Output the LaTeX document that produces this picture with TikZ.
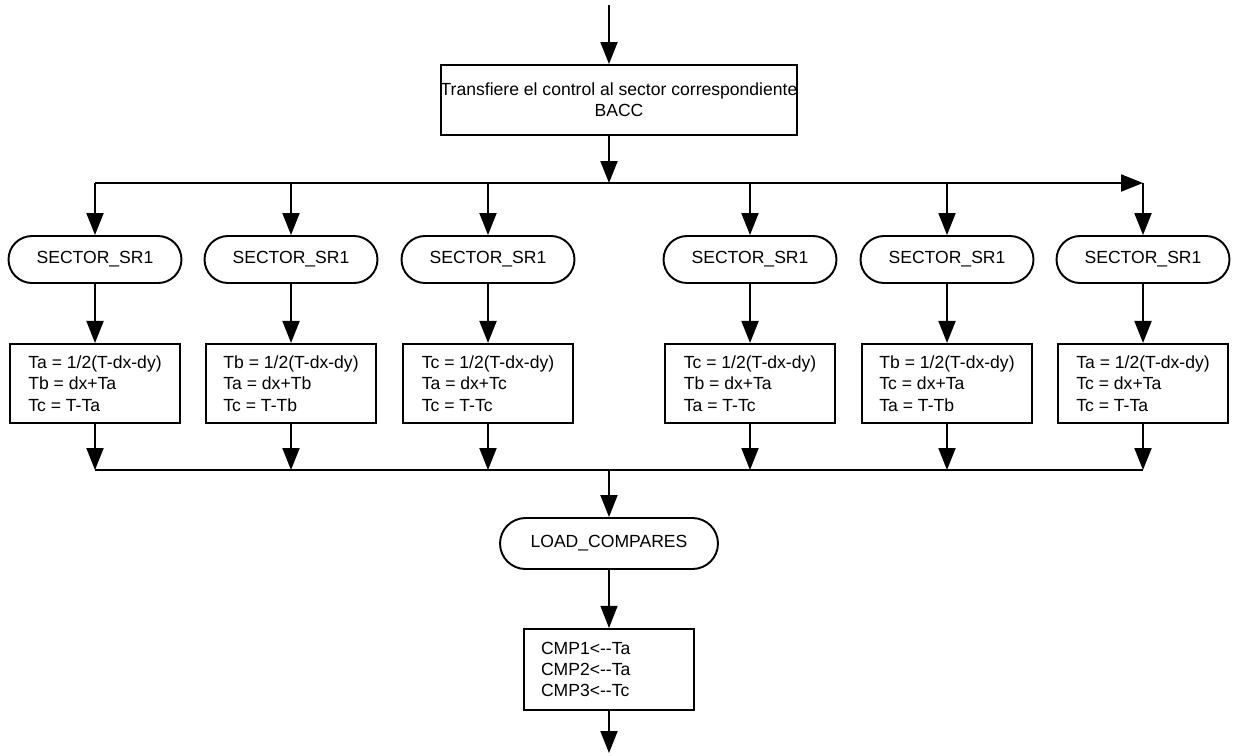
\documentclass[tikz,border=0pt]{standalone}
\usepackage{fontspec}
\setmainfont{Liberation Sans}
\usepackage{tikz}
\usetikzlibrary{calc, positioning, arrows.meta}
\tikzset{
    arrow/.style={-{Triangle[length=0.44cm, width=0.34cm]}, line width=1.1pt},
    thinarrow/.style={-{Triangle[length=0.44cm, width=0.34cm]}, line width=0.6pt},
    bus/.style={line width=1.1pt},
    process/.style={rectangle, draw=black, line width=1.1pt, fill=white, align=center, minimum width=7.12cm, minimum height=1.4cm, inner xsep=0pt, font=\fontsize{10}{11.8}\selectfont},
    calc/.style={rectangle, draw=black, line width=1.1pt, fill=white, align=left, minimum width=3.4cm, minimum height=1.58cm, font=\fontsize{10}{12.2}\selectfont},
    term/.style={rectangle, draw=black, line width=1.1pt, fill=white, rounded corners=0.47cm, minimum width=3.46cm, minimum height=0.94cm, font=\fontsize{10}{12}\selectfont}
}
\begin{document}
\begin{tikzpicture}[x=0.02cm, y=-0.02cm]
        \useasboundingbox (0,0) rectangle (1233,755);

        % Entry and transfer
        \coordinate (In) at (609,5);
        \node[process] (Transfer) at (619,100) {Transfiere el control al sector correspondiente\\BACC};
        \draw[arrow] (In) -- (In |- Transfer.north);

        % Sectors
        \node[term] (S1) at (95,259.5) {SECTOR\_SR1};
        \node[term] (S2) at (291,259.5) {SECTOR\_SR1};
        \node[term] (S3) at (488,259.5) {SECTOR\_SR1};
        \node[term] (S4) at (750,259.5) {SECTOR\_SR1};
        \node[term] (S5) at (947,259.5) {SECTOR\_SR1};
        \node[term] (S6) at (1143,259.5) {SECTOR\_SR1};

        % Distribution bus
        \coordinate (BusL) at (95,183);
        \coordinate (BusR) at (1143,183);
        \draw[arrow] (BusL) -- (BusR);
        \draw[arrow] (Transfer.south -| In) -- (In |- BusL);

        % Duty times
        \node[calc, below=1.18cm of S1] (C1) {Ta = 1/2(T-dx-dy)\\Tb = dx+Ta\\Tc = T-Ta};
        \node[calc, below=1.18cm of S2] (C2) {Tb = 1/2(T-dx-dy)\\Ta = dx+Tb\\Tc = T-Tb};
        \node[calc, below=1.18cm of S3] (C3) {Tc = 1/2(T-dx-dy)\\Ta = dx+Tc\\Tc = T-Tc};
        \node[calc, below=1.18cm of S4] (C4) {Tc = 1/2(T-dx-dy)\\Tb = dx+Ta\\Ta = T-Tc};
        \node[calc, below=1.18cm of S5] (C5) {Tb = 1/2(T-dx-dy)\\Tc = dx+Ta\\Ta = T-Tb};
        \node[calc, below=1.18cm of S6] (C6) {Ta = 1/2(T-dx-dy)\\Tc = dx+Ta\\Tc = T-Ta};

        \draw[arrow] (S1.north |- BusL) -- (S1.north);
        \draw[arrow] (S2.north |- BusL) -- (S2.north);
        \draw[arrow] (S3.north |- BusL) -- (S3.north);
        \draw[arrow] (S4.north |- BusL) -- (S4.north);
        \draw[arrow] (S5.north |- BusL) -- (S5.north);
        \draw[arrow] (S6.north |- BusL) -- (S6.north);

        \draw[arrow] (S1) -- (C1);
        \draw[arrow] (S2) -- (C2);
        \draw[arrow] (S3) -- (C3);
        \draw[arrow] (S4) -- (C4);
        \draw[arrow] (S5) -- (C5);
        \draw[arrow] (S6) -- (C6);

        % Join bus
        \coordinate (JoinL) at (95,470);
        \coordinate (JoinR) at (1143,470);
        \draw[bus] (JoinL) -- (JoinR);
        \draw[arrow] (C1.south) -- (C1.south |- JoinL);
        \draw[arrow] (C2.south) -- (C2.south |- JoinL);
        \draw[arrow] (C3.south) -- (C3.south |- JoinL);
        \draw[arrow] (C4.south) -- (C4.south |- JoinL);
        \draw[arrow] (C5.south) -- (C5.south |- JoinL);
        \draw[arrow] (C6.south) -- (C6.south |- JoinL);

        % Load compares
        \node[term, minimum width=4.36cm, minimum height=1.02cm, rounded corners=0.51cm] (Load) at (609,543.5) {LOAD\_COMPARES};
        \draw[arrow] (In |- JoinL) -- (Load.north);

        \node[calc, below=1.16cm of Load, minimum height=1.62cm, text width=2.72cm, inner xsep=0.34cm] (Cmp) {CMP1<{-}{-}Ta\\CMP2<{-}{-}Ta\\CMP3<{-}{-}Tc};
        \draw[thinarrow] (Load) -- (Cmp);

        \coordinate (Out) at (609,753);
        \draw[arrow] (Cmp) -- (Out);
\end{tikzpicture}
\end{document}
